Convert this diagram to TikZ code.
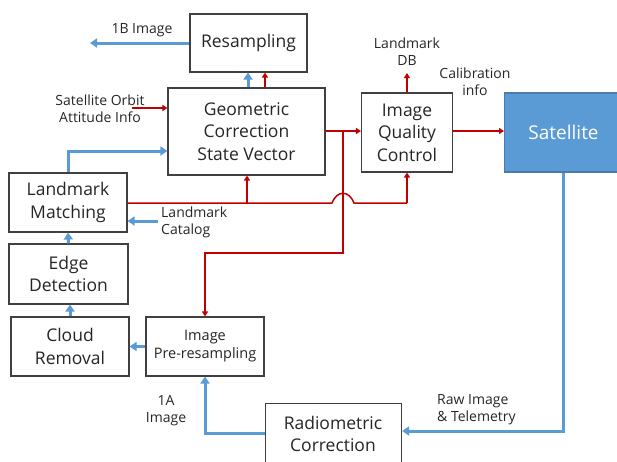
\documentclass[tikz,border=0pt]{standalone}
\usepackage{fontspec}
\setmainfont{Open Sans}
\usetikzlibrary{arrows.meta}
\definecolor{bl}{HTML}{5B9BD5}
\definecolor{rd}{HTML}{C00000}
\definecolor{bd}{HTML}{404040}
\tikzset{
  box/.style={draw=bd, line width=1.1pt, fill=white, inner sep=0pt, align=center, font=\fontsize{17.5}{22.5}\selectfont, text=black!85},
  lbl/.style={font=\fontsize{14}{17}\selectfont, align=center, inner sep=0pt, text=black!85},
  bline/.style={draw=bl, line width=3pt, -{Triangle[length=7pt,width=9pt]}},
  rline/.style={draw=rd, line width=1.5pt, -{Triangle[length=5pt,width=6pt]}},
  rplain/.style={draw=rd, line width=1.5pt},
}
\begin{document}
\begin{tikzpicture}[x=1pt,y=-1pt]
\useasboundingbox (0,0) rectangle (617,461);
% boxes
\node[box, minimum width=117pt, minimum height=58pt] (res) at (248.5,43) {Resampling};
\node[box, minimum width=157pt, minimum height=87pt] (geo) at (246.5,131.5) {Geometric\\Correction\\State Vector};
\node[box, minimum width=118pt, minimum height=59pt] (lm) at (68,202.5) {Landmark\\Matching};
\node[box, minimum width=119pt, minimum height=60pt] (edge) at (68.5,274) {Edge\\Detection};
\node[box, minimum width=118pt, minimum height=59pt] (cloud) at (70,346.5) {Cloud\\Removal};
\node[box, minimum width=118pt, minimum height=59pt, font=\fontsize{14.5}{18}\selectfont] (pre) at (205,346.5) {Image\\Pre-resampling};
\node[box, minimum width=91pt, minimum height=79pt] (iqc) at (407,132.5) {Image\\Quality\\Control};
\node[box, draw=bl!80!black, fill=bl, text=white, minimum width=118pt, minimum height=79pt, anchor=west, font=\fontsize{19}{22.5}\selectfont] (sat) at (504,132.5) {Satellite};
\node[box, minimum width=136pt, minimum height=62pt, anchor=north west] (rad) at (265,403) {};
\node[box, draw=none, fill=none] at (333,434) {Radiometric\\Correction};
% labels
\node[lbl] at (100,109) {Satellite Orbit\\Attitude Info};
\node[lbl] at (142,30) {1B Image};
\node[lbl, align=left, anchor=west] at (161,222) {Landmark\\Catalog};
\node[lbl] at (407,52) {Landmark\\DB};
\node[lbl] at (475,82) {Calibration\\info};
\node[lbl, align=left, anchor=west] at (437,410) {Raw Image\\\& Telemetry};
\node[lbl] at (166,411) {1A\\Image};
% coordinates
\coordinate (b1) at (90,43);
\coordinate (sa) at (132,108);
\coordinate (lc) at (158,221);
\coordinate (db) at (407,73);
% blue connectors
\draw[bline] (res.west) -- (b1);
\draw[bline] (geo.north -| 248,0) -- (res.south -| 248,0);
\draw[bline] (lm.north) |- (geo.west |- 0,151);
\draw[bline] (lc) -- (lm.east |- lc);
\draw[bline] (edge.north) -- (lm.south);
\draw[bline] (cloud.north) -- (cloud.north |- edge.south);
\draw[bline] (pre.west) -- (cloud.east);
\draw[bline] (rad.west |- 0,433) -| (pre.south);
\draw[bline] (sat.south -| 563,0) |- (rad.east |- 0,431);
% red connectors
\draw[rline] (geo.north -| 265,0) -- (res.south -| 265,0);
\draw[rline] (sa) -- (geo.west |- sa);
\draw[rline] (geo.east |- 0,131) -- (iqc.west |- 0,131);
\draw[rline] (iqc.north) -- (db);
\draw[rline] (iqc.east |- 0,131) -- (sat.west |- 0,131);
\draw[rplain] (lm.east |- 0,203) -- (332,203) .. controls (337,190) and (349,190) .. (354,203) -- (407,203);
\draw[rline] (407,203) -- (iqc.south);
\draw[rline] (247,203) -- (geo.south -| 247,0);
\draw[rline] (343,131) -- (343,253) -- (205,253) -- (pre.north);
\end{tikzpicture}
\end{document}
